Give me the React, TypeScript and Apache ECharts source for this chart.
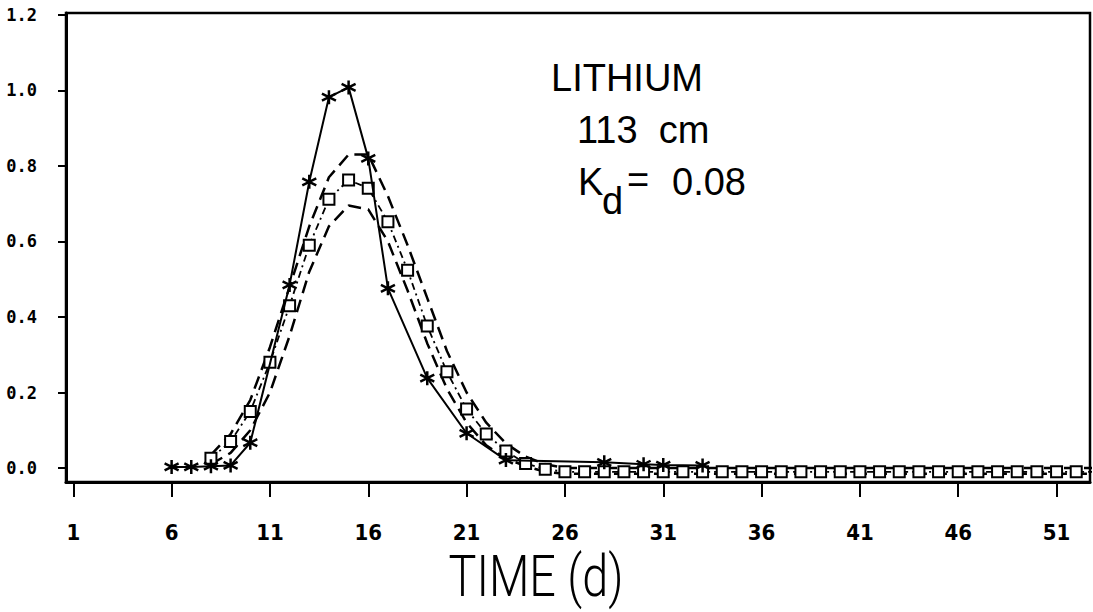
import React, { useEffect, useRef } from "react";
import * as echarts from "echarts";

// ---- data ----
const xTickValues = [1, 6, 11, 16, 21, 26, 31, 36, 41, 46, 51];
const yTickValues = [0, 0.2, 0.4, 0.6, 0.8, 1.0, 1.2];

const observedDays = [6, 7, 8, 9, 10, 12, 13, 14, 15, 16, 17, 19, 21, 23, 28, 30, 31, 33];
const observedValues = [0.003, 0.003, 0.005, 0.007, 0.067, 0.485, 0.758, 0.982, 1.008, 0.82, 0.476, 0.238, 0.092, 0.021, 0.015, 0.01, 0.008, 0.007];

const modelDays = [8, 9, 10, 11, 12, 13, 14, 15, 16, 17, 18, 19, 20, 21, 22, 23, 24, 25, 26, 27, 28, 29, 30, 31, 32, 33, 34, 35, 36, 37, 38, 39, 40, 41, 42, 43, 44, 45, 46, 47, 48, 49, 50, 51, 52, 53];
const middleValues = [0.026, 0.07, 0.15, 0.28, 0.43, 0.59, 0.712, 0.763, 0.741, 0.652, 0.524, 0.376, 0.255, 0.156, 0.09, 0.045, 0.012, -0.003, -0.01, -0.01, -0.01, -0.01, -0.01, -0.01, -0.01, -0.01, -0.01, -0.01, -0.01, -0.01, -0.01, -0.01, -0.01, -0.01, -0.01, -0.01, -0.01, -0.01, -0.01, -0.01, -0.01, -0.01, -0.01, -0.01, -0.01, -0.01];
const upperValues = [0.035, 0.09, 0.18, 0.32, 0.48, 0.64, 0.77, 0.83, 0.83, 0.72, 0.59, 0.45, 0.31, 0.2, 0.12, 0.065, 0.03, 0.01, 0.0, 0.0, 0.0, 0.0, 0.0, 0.0, 0.0, 0.0, 0.0, 0.0, 0.0, 0.0, 0.0, 0.0, 0.0, 0.0, 0.0, 0.0, 0.0, 0.0, 0.0, 0.0, 0.0, 0.0, 0.0, 0.0, 0.0, 0.0];
const lowerValues = [0.01, 0.04, 0.1, 0.2, 0.35, 0.52, 0.64, 0.695, 0.685, 0.6, 0.47, 0.33, 0.21, 0.12, 0.06, 0.025, 0.005, -0.01, -0.015, -0.015, -0.015, -0.015, -0.015, -0.015, -0.015, -0.015, -0.015, -0.015, -0.015, -0.015, -0.015, -0.015, -0.015, -0.015, -0.015, -0.015, -0.015, -0.015, -0.015, -0.015, -0.015, -0.015, -0.015, -0.015, -0.015, -0.015];

const titleLines = ["LITHIUM", "113  cm"];
const kdLabel = { k: "K", sub: "d", eq: "=", val: "0.08" };
const xAxisTitle = "TIME (d)";

const pair = (xs: number[], ys: number[]) => xs.map((x, i) => [x, ys[i]]);

const asterisk = "path://M0,-6L0,6M-5.2,-3L5.2,3M-5.2,3L5.2,-3";

export default function App() {
  const ref = useRef<HTMLDivElement>(null);
  useEffect(() => {
    if (!ref.current) return;
    const chart = echarts.init(ref.current, null, { renderer: "svg" });
    const textFont = "'Liberation Sans', Arial, sans-serif";
    chart.setOption({
      animation: false,
      backgroundColor: "#fff",
      grid: { left: 66, top: 13, right: 3, bottom: 130, show: true, borderColor: "#000", borderWidth: 2.5 },
      xAxis: {
        type: "value",
        min: 0.63,
        max: 52.7,
        axisLine: { show: true, onZero: false, lineStyle: { color: "#000", width: 3 } },
        axisTick: { show: true, length: 15, customValues: xTickValues, lineStyle: { color: "#000", width: 2 } },
        axisLabel: {
          customValues: xTickValues,
          margin: 39,
          color: "#000",
          fontSize: 22,
          fontWeight: "bold",
          fontFamily: "'DejaVu Sans Condensed', sans-serif",
        },
        splitLine: { show: false },
      },
      yAxis: {
        type: "value",
        min: -0.037,
        max: 1.205,
        axisLine: { show: true, onZero: false, lineStyle: { color: "#000", width: 3 } },
        axisTick: { show: true, length: 8, customValues: yTickValues, lineStyle: { color: "#000", width: 2 } },
        axisLabel: {
          customValues: yTickValues,
          margin: 29,
          color: "#000",
          fontSize: 17,
          fontWeight: "bold",
          fontFamily: "'DejaVu Sans Mono', monospace",
          formatter: (v: number) => v.toFixed(1),
        },
        splitLine: { show: false },
      },
      series: [
        { type: "line", data: pair(modelDays, upperValues), symbol: "none", lineStyle: { color: "#000", width: 2.5, type: [13, 7] }, z: 2 },
        { type: "line", data: pair(modelDays, lowerValues), symbol: "none", lineStyle: { color: "#000", width: 2.5, type: [13, 7] }, z: 2 },
        {
          type: "line",
          data: pair(modelDays, middleValues),
          symbol: "emptyRect",
          symbolSize: 11,
          showAllSymbol: true,
          itemStyle: { color: "#000", borderColor: "#000", borderWidth: 1.8 },
          lineStyle: { color: "#000", width: 1.8, type: [7, 4, 2, 4] },
          z: 3,
        },
        {
          type: "line",
          data: pair(observedDays, observedValues),
          symbol: asterisk,
          symbolSize: 14,
          itemStyle: { color: "#000", borderColor: "#000", borderWidth: 2.5 },
          lineStyle: { color: "#000", width: 2 },
          z: 4,
        },
      ],
      graphic: [
        { type: "text", left: 551, top: 59, style: { text: titleLines[0], font: `38px ${textFont}`, fill: "#000" } },
        { type: "text", left: 577, top: 111, style: { text: titleLines[1], font: `38px ${textFont}`, fill: "#000" } },
        { type: "text", left: 578, top: 163, style: { text: kdLabel.k, font: `38px ${textFont}`, fill: "#000" } },
        { type: "text", left: 602, top: 182, style: { text: kdLabel.sub, font: `38px ${textFont}`, fill: "#000" } },
        { type: "text", left: 627, top: 161, style: { text: kdLabel.eq, font: `38px ${textFont}`, fill: "#000" } },
        { type: "text", left: 672, top: 163, style: { text: kdLabel.val, font: `38px ${textFont}`, fill: "#000" } },
        {
          type: "text",
          x: 536,
          y: 577,
          scaleX: 0.82,
          style: { text: xAxisTitle, font: `300 57px Roboto, 'Liberation Sans', sans-serif`, fill: "#000", align: "center", verticalAlign: "middle" },
        },
      ],
    });
    return () => chart.dispose();
  }, []);
  return <div ref={ref} style={{ position: "fixed", left: 0, top: 0, width: 1093, height: 612, background: "#fff" }} />;
}
